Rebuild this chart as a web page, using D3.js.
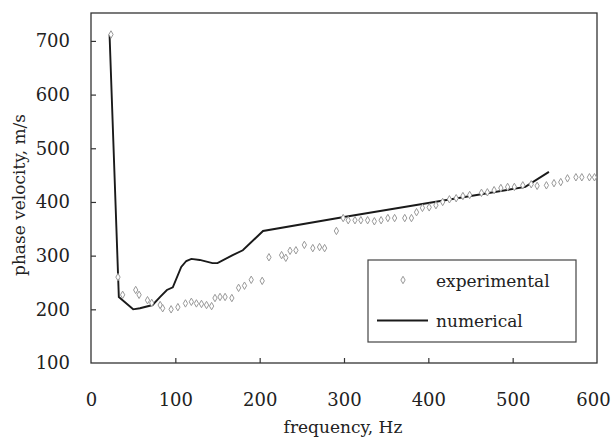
<!DOCTYPE html>
<html>
<head>
<meta charset="utf-8">
<script src="https://cdn.jsdelivr.net/npm/d3@7"></script>
<style>
  body { margin: 0; background: #fff; }
  svg text { font-family: "DejaVu Serif", "Liberation Serif", serif; fill: #222; }
</style>
</head>
<body>
<div id="chart"></div>
<script>
// experimental points (frequency Hz, phase velocity m/s)
var expFreq = [23.7, 32, 37.5, 53, 57, 67, 72, 82, 85, 95, 103, 112, 119, 125, 131, 137, 143,
  147, 153, 159, 167, 175, 182, 190, 203, 211, 226, 231, 236, 243, 253, 263, 271, 277, 291,
  299, 305, 313, 320, 328, 336, 344, 352, 360, 372, 380, 386, 393, 401, 409, 417, 425, 433,
  441, 449, 463, 470, 478, 486, 494, 502, 512, 522, 529, 540, 549, 557, 565, 575, 582, 591, 597];
var expVel = [712, 260, 227, 236, 227, 217, 212, 208, 202, 200, 204, 211, 214, 211, 210, 208, 206,
  221, 223, 223, 221, 240, 244, 255, 253, 297, 301, 296, 309, 310, 320, 314, 316, 314, 346,
  370, 366, 366, 366, 366, 364, 366, 370, 370, 370, 370, 381, 389, 390, 394, 400, 405, 407,
  411, 413, 417, 418, 422, 426, 428, 428, 431, 433, 430, 431, 435, 437, 444, 446, 446, 446, 446];

// numerical curve
var numFreq = [22, 33, 50, 58, 73, 82, 90, 97, 107, 113, 119, 129, 144, 150, 168, 180, 204, 300, 400, 515, 543];
var numVel = [712, 223, 200, 202, 208, 223, 236, 241, 279, 290, 294, 292, 286, 286, 301, 310, 346, 372, 398, 428, 456];

var xTicks = [0, 100, 200, 300, 400, 500, 600];
var yTicks = [100, 200, 300, 400, 500, 600, 700];

var width = 613, height = 441;
var margin = {top: 13, right: 16, bottom: 78, left: 91};

var svg = d3.select("#chart").append("svg")
  .attr("width", width)
  .attr("height", height);

var x = d3.scaleLinear().domain([0, 600]).range([margin.left, width - margin.right]);
var y = d3.scaleLinear().domain([100, 752]).range([height - margin.bottom, margin.top]);

// frame
svg.append("rect")
  .attr("x", margin.left)
  .attr("y", margin.top)
  .attr("width", width - margin.left - margin.right)
  .attr("height", height - margin.top - margin.bottom)
  .style("fill", "none")
  .style("stroke", "#333")
  .style("stroke-width", 1.3);

// axes, ticks pointing inward
var xAxis = svg.append("g")
  .attr("transform", "translate(0," + (height - margin.bottom) + ")")
  .call(d3.axisBottom(x).tickValues(xTicks).tickSize(-5).tickPadding(30));
var yAxis = svg.append("g")
  .attr("transform", "translate(" + margin.left + ",0)")
  .call(d3.axisLeft(y).tickValues(yTicks).tickSize(-5).tickPadding(21));

[xAxis, yAxis].forEach(function(a) {
  a.attr("font-family", "DejaVu Serif").attr("font-size", 18);
  a.select(".domain").remove();
  a.selectAll(".tick line").style("stroke", "#333").style("stroke-width", 1.2);
  a.selectAll(".tick text").style("fill", "#222");
});
xAxis.selectAll(".tick").filter(function(d) { return d == 0 || d == 600; }).select("line").remove();
// last label sits a bit inside so it is not clipped
xAxis.selectAll(".tick").filter(function(d) { return d == 600; }).select("text").attr("dx", -4);
yAxis.selectAll(".tick").filter(function(d) { return d == 100; }).select("line").remove();

// axis titles
svg.append("text")
  .attr("x", x(300) - 1)
  .attr("y", 433)
  .attr("text-anchor", "middle")
  .style("font-size", "17px")
  .text("frequency, Hz");

svg.append("text")
  .attr("transform", "translate(25,195) rotate(-90)")
  .attr("text-anchor", "middle")
  .style("font-size", "17px")
  .text("phase velocity, m/s");

// numerical line
var line = d3.line()
  .x(function(d, i) { return x(numFreq[i]); })
  .y(function(d, i) { return y(numVel[i]); });

svg.append("path")
  .datum(numFreq)
  .attr("d", line)
  .style("fill", "none")
  .style("stroke", "#1a1a1a")
  .style("stroke-width", 1.9);

// experimental markers
var diamond = d3.symbol().type(d3.symbolDiamond).size(16);

svg.append("g")
  .selectAll("path")
  .data(expFreq)
  .enter().append("path")
    .attr("d", diamond)
    .attr("transform", function(d, i) { return "translate(" + x(d) + "," + y(expVel[i]) + ")"; })
    .style("fill", "#fff")
    .style("stroke", "#999")
    .style("stroke-width", 1);

// legend
var legend = svg.append("g");
legend.append("rect")
  .attr("x", 368).attr("y", 260)
  .attr("width", 208).attr("height", 82)
  .style("fill", "#fff")
  .style("stroke", "#444")
  .style("stroke-width", 1.2);

legend.append("path")
  .attr("d", diamond)
  .attr("transform", "translate(403,280)")
  .style("fill", "#fff")
  .style("stroke", "#999");

legend.append("text")
  .attr("x", 436).attr("y", 287)
  .style("font-size", "17px")
  .text("experimental");

legend.append("line")
  .attr("x1", 377).attr("x2", 428)
  .attr("y1", 320.5).attr("y2", 320.5)
  .style("stroke", "#1a1a1a")
  .style("stroke-width", 1.9);

legend.append("text")
  .attr("x", 436).attr("y", 327)
  .style("font-size", "17px")
  .text("numerical");
</script>
</body>
</html>
